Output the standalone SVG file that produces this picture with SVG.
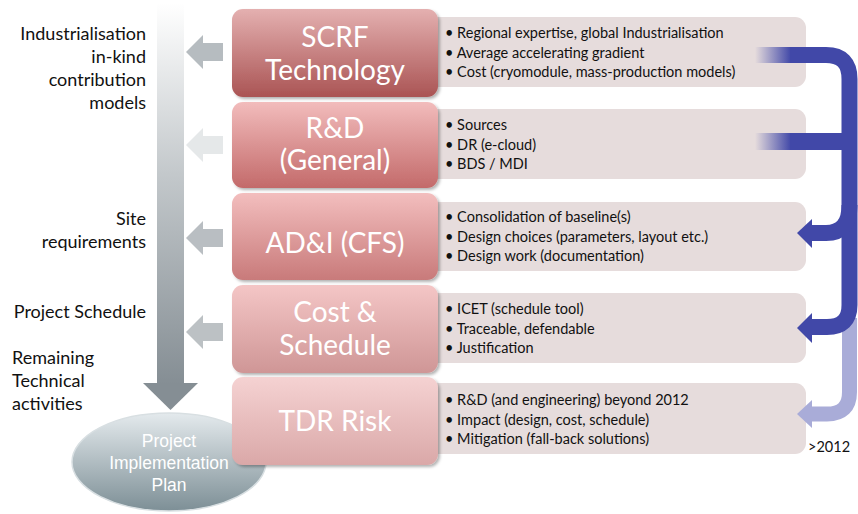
<svg xmlns="http://www.w3.org/2000/svg" width="858" height="514" viewBox="0 0 858 514">
<defs>
<linearGradient id="shaft" x1="0" y1="0" x2="0" y2="1"><stop offset="0" stop-color="#ffffff"/><stop offset="0.45" stop-color="#c3c8cb"/><stop offset="1" stop-color="#858e94"/></linearGradient>
<linearGradient id="g1" x1="0" y1="0" x2="0" y2="1"><stop offset="0" stop-color="#e4b0b0"/><stop offset="1" stop-color="#aa5454"/></linearGradient>
<linearGradient id="g2" x1="0" y1="0" x2="0" y2="1"><stop offset="0" stop-color="#f2bcbc"/><stop offset="1" stop-color="#c36a6a"/></linearGradient>
<linearGradient id="g3" x1="0" y1="0" x2="0" y2="1"><stop offset="0" stop-color="#f3bebe"/><stop offset="1" stop-color="#c87a7a"/></linearGradient>
<linearGradient id="g4" x1="0" y1="0" x2="0" y2="1"><stop offset="0" stop-color="#f4c6c6"/><stop offset="1" stop-color="#cf9696"/></linearGradient>
<linearGradient id="g5" x1="0" y1="0" x2="0" y2="1"><stop offset="0" stop-color="#f5d2d2"/><stop offset="1" stop-color="#daa8a8"/></linearGradient>
<linearGradient id="ell" x1="0" y1="0" x2="0" y2="1"><stop offset="0" stop-color="#e4eaed"/><stop offset="1" stop-color="#7d8f96"/></linearGradient>
<linearGradient id="fade" x1="0" y1="0" x2="1" y2="0"><stop offset="0" stop-color="#4148a8" stop-opacity="0"/><stop offset="1" stop-color="#4148a8"/></linearGradient>
<filter id="sh" x="-10%" y="-10%" width="130%" height="130%"><feDropShadow dx="2" dy="2" stdDeviation="1.5" flood-color="#000" flood-opacity="0.3"/></filter>
</defs>
<style>
.lbl{font-family:Lato,"Open Sans",sans-serif;font-size:18px;fill:#111}
.r{text-anchor:end}
.big{font-family:Lato,"Open Sans",sans-serif;font-size:28px;fill:#fff;text-anchor:middle}
.bl{font-family:Lato,"Open Sans",sans-serif;font-size:14.5px;fill:#111}
.gbox{fill:#e6dcdc}
.ell{font-family:"Liberation Sans",Arial,sans-serif;font-size:17.5px;fill:#fff;text-anchor:middle}
.blue{fill:none;stroke:#4148a8;stroke-width:16}
</style>

<g id="main-arrow">
<rect x="157" y="3" width="27" height="381" fill="url(#shaft)"/>
<polygon points="143,383 198,383 170.5,410" fill="#858e94"/>
</g>

<g id="side-arrows">
<polygon points="186,52 203,35 203,43 223,43 223,61 203,61 203,69" fill="#b6bcc0"/>
<polygon points="186,145 203,128 203,136 223,136 223,154 203,154 203,162" fill="#e5e8e9"/>
<polygon points="186,238 203,221 203,229 223,229 223,247 203,247 203,255" fill="#b9bec2"/>
<polygon points="186,332 203,315 203,323 223,323 223,341 203,341 203,349" fill="#bcc1c4"/>
</g>

<g id="left-labels">
<text class="lbl r" x="146" y="40">Industrialisation</text>
<text class="lbl r" x="146" y="63">in-kind</text>
<text class="lbl r" x="146" y="86">contribution</text>
<text class="lbl r" x="146" y="109">models</text>
<text class="lbl r" x="146" y="225">Site</text>
<text class="lbl r" x="146" y="248">requirements</text>
<text class="lbl r" x="146" y="318">Project Schedule</text>
<text class="lbl" x="12" y="364">Remaining</text>
<text class="lbl" x="12" y="387">Technical</text>
<text class="lbl" x="12" y="410">activities</text>
</g>

<g id="pip">
<ellipse cx="169" cy="462" rx="97" ry="49" fill="url(#ell)" stroke="#d8dfe2" stroke-width="1.5"/>
<text class="ell" x="169" y="447">Project</text>
<text class="ell" x="169" y="469">Implementation</text>
<text class="ell" x="169" y="491">Plan</text>
</g>

<g id="detail-boxes">
<rect class="gbox" x="420" y="17" width="386" height="70" rx="11"/>
<rect class="gbox" x="420" y="109" width="386" height="70" rx="11"/>
<rect class="gbox" x="420" y="202" width="386" height="69" rx="11"/>
<rect class="gbox" x="420" y="293" width="386" height="70" rx="11"/>
<rect class="gbox" x="420" y="383" width="386" height="71" rx="11"/>
</g>

<g id="scrf">
<rect x="232" y="9" width="206" height="88" rx="11" fill="url(#g1)" filter="url(#sh)"/>
<text class="big" x="335" y="47">SCRF</text>
<text class="big" x="335" y="80">Technology</text>
</g>
<g id="rd">
<rect x="232" y="102" width="206" height="86" rx="11" fill="url(#g2)" filter="url(#sh)"/>
<text class="big" x="335" y="138">R&amp;D</text>
<text class="big" x="335" y="170">(General)</text>
</g>
<g id="adi">
<rect x="232" y="193" width="206" height="87" rx="11" fill="url(#g3)" filter="url(#sh)"/>
<text class="big" x="335" y="253">AD&amp;I (CFS)</text>
</g>
<g id="cost">
<rect x="232" y="285" width="206" height="88" rx="11" fill="url(#g4)" filter="url(#sh)"/>
<text class="big" x="335" y="322">Cost &amp;</text>
<text class="big" x="335" y="355">Schedule</text>
</g>
<g id="tdr">
<rect x="232" y="377" width="206" height="88" rx="11" fill="url(#g5)" filter="url(#sh)"/>
<text class="big" x="335" y="431">TDR Risk</text>
</g>

<g id="bullets">
<text class="bl" x="445" y="38">• Regional expertise, global Industrialisation</text>
<text class="bl" x="445" y="57.5">• Average accelerating gradient</text>
<text class="bl" x="445" y="77">• Cost (cryomodule, mass-production models)</text>
<text class="bl" x="445" y="130">• Sources</text>
<text class="bl" x="445" y="149.5">• DR (e-cloud)</text>
<text class="bl" x="445" y="169">• BDS / MDI</text>
<text class="bl" x="445" y="222">• Consolidation of baseline(s)</text>
<text class="bl" x="445" y="241.5">• Design choices (parameters, layout etc.)</text>
<text class="bl" x="445" y="261">• Design work (documentation)</text>
<text class="bl" x="445" y="314">• ICET (schedule tool)</text>
<text class="bl" x="445" y="333.5">• Traceable, defendable</text>
<text class="bl" x="445" y="353">• Justification</text>
<text class="bl" x="445" y="405">• R&amp;D (and engineering) beyond 2012</text>
<text class="bl" x="445" y="424.5">• Impact (design, cost, schedule)</text>
<text class="bl" x="445" y="444">• Mitigation (fall-back solutions)</text>
<text class="bl" x="808" y="452">&gt;2012</text>
</g>

<g id="connectors">
<path d="M849.5 318 V392 Q849.5 414 827 414 H811" fill="none" stroke="#a9acd8" stroke-width="15"/>
<polygon points="797,414 812,400 812,428" fill="#a9acd8"/>
<rect x="755" y="47" width="36" height="16" fill="url(#fade)"/>
<rect x="755" y="133" width="36" height="17" fill="url(#fade)"/>
<path class="blue" d="M790 55 H826 Q849.5 55 849.5 79 V305 Q849.5 327 827 327 H811"/>
<rect x="790" y="133" width="60" height="17" fill="#4148a8"/>
<path class="blue" d="M849.5 205 Q849.5 233 826 233 H811"/>
<polygon points="797,233 812,219 812,248" fill="#4148a8"/>
<polygon points="797,328 812,313 812,343" fill="#4148a8"/>
</g>
</svg>
